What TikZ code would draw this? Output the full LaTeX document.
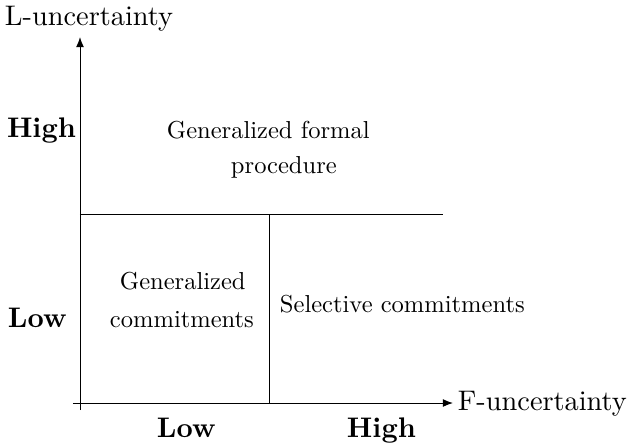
\documentclass[tikz,border=0pt]{standalone}
\usetikzlibrary{arrows.meta}
\begin{document}
\begin{tikzpicture}[x=0.353pt,y=-0.353pt,
  lbl/.style={anchor=base west,inner sep=0pt,outer sep=0pt},
  bl/.style={lbl,font=\bfseries},
  inner/.style={lbl,scale=0.866},
  axis/.style={line width=0.35pt,-{Latex[length=3.6pt,width=2.8pt]}},
  divider/.style={line width=0.35pt}]
\useasboundingbox (0,0) rectangle (629,444);
% axes coordinates
\coordinate (yb) at (80,410);
\coordinate (yt) at (80,37);
\coordinate (xl) at (73,403);
\coordinate (xr) at (453,403);
\coordinate (hl) at (80,214);
\coordinate (hr) at (443,214);
\coordinate (vt) at (269,214);
\coordinate (vb) at (269,403);
\draw[axis] (yb) -- (yt);
\draw[axis] (xl) -- (xr);
\draw[divider] (hl) -- (hr);
\draw[divider] (vt) -- (vb);
% labels
\node[lbl] (ly) at (5,25) {L-uncertainty};
\node[lbl] (lx) at (458,410) {F-uncertainty};
\node[bl] (lhigh) at (7,137) {High};
\node[bl] (llow) at (8,327) {Low};
\node[bl] (blow) at (157,437) {Low};
\node[bl] (bhigh) at (347,437) {High};
\node[inner] (gf1) at (167,138) {Generalized formal};
\node[inner] (gf2) at (231,173) {procedure};
\node[inner] (gc1) at (120,289) {Generalized};
\node[inner] (gc2) at (110,327) {commitments};
\node[inner] (sc) at (280,312) {Selective commitments};
\end{tikzpicture}
\end{document}
